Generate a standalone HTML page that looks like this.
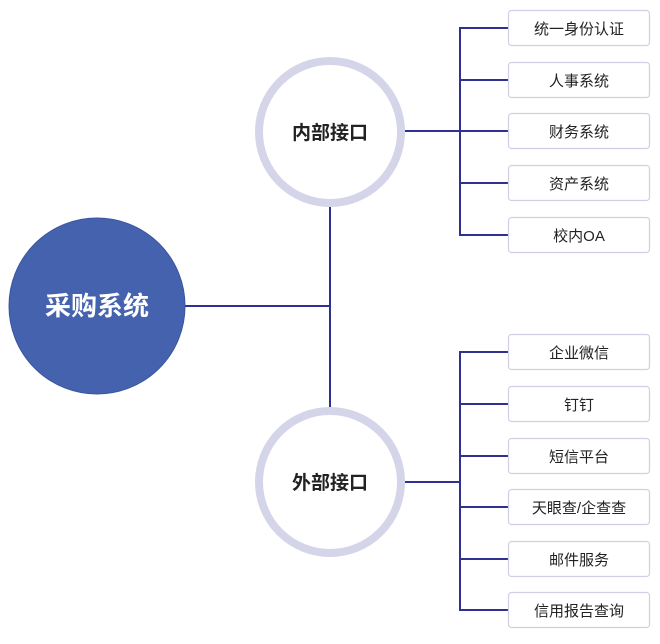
<!DOCTYPE html>
<html><head><meta charset="utf-8"><style>
body{margin:0;background:#fff;}
svg text{font-family:"Liberation Sans","Noto Sans CJK SC",sans-serif;}
</style></head><body>
<svg width="660" height="639" viewBox="0 0 660 639" xmlns="http://www.w3.org/2000/svg">
<g stroke="#2e3192" stroke-width="2" fill="none">
<line x1="185" y1="306" x2="330" y2="306"/>
<line x1="330" y1="207" x2="330" y2="407"/>
<line x1="405" y1="131" x2="508" y2="131"/>
<polyline points="508,28 460,28 460,235 508,235"/>
<line x1="460" y1="80" x2="508" y2="80"/>
<line x1="460" y1="183" x2="508" y2="183"/>
<line x1="405" y1="482" x2="460" y2="482"/>
<polyline points="508,352 460,352 460,610 508,610"/>
<line x1="460" y1="404" x2="508" y2="404"/>
<line x1="460" y1="456" x2="508" y2="456"/>
<line x1="460" y1="507" x2="508" y2="507"/>
<line x1="460" y1="559" x2="508" y2="559"/>
</g>
<circle cx="97" cy="306" r="88" fill="#4462ad" stroke="#3a55a0" stroke-width="1"/>
<text x="97" y="315" font-size="26" font-weight="bold" fill="#fff" text-anchor="middle">采购系统</text>
<circle cx="330" cy="132" r="71" fill="#fff" stroke="#d5d5ea" stroke-width="8"/>
<text x="330" y="139" font-size="19" font-weight="bold" fill="#222" text-anchor="middle">内部接口</text>
<circle cx="330" cy="482" r="71" fill="#fff" stroke="#d5d5ea" stroke-width="8"/>
<text x="330" y="489" font-size="19" font-weight="bold" fill="#222" text-anchor="middle">外部接口</text>
<g fill="#fff" stroke="#cfcfe6" stroke-width="1.2">
<rect x="508.5" y="10.5" width="141" height="35" rx="3"/>
<rect x="508.5" y="62.5" width="141" height="35" rx="3"/>
<rect x="508.5" y="113.5" width="141" height="35" rx="3"/>
<rect x="508.5" y="165.5" width="141" height="35" rx="3"/>
<rect x="508.5" y="217.5" width="141" height="35" rx="3"/>
<rect x="508.5" y="334.5" width="141" height="35" rx="3"/>
<rect x="508.5" y="386.5" width="141" height="35" rx="3"/>
<rect x="508.5" y="438.5" width="141" height="35" rx="3"/>
<rect x="508.5" y="489.5" width="141" height="35" rx="3"/>
<rect x="508.5" y="541.5" width="141" height="35" rx="3"/>
<rect x="508.5" y="592.5" width="141" height="35" rx="3"/>
</g>
<g font-size="15" fill="#222" text-anchor="middle">
<text x="579" y="34">统一身份认证</text>
<text x="579" y="86">人事系统</text>
<text x="579" y="137">财务系统</text>
<text x="579" y="189">资产系统</text>
<text x="579" y="241">校内OA</text>
<text x="579" y="358">企业微信</text>
<text x="579" y="410">钉钉</text>
<text x="579" y="462">短信平台</text>
<text x="579" y="513">天眼查/企查查</text>
<text x="579" y="565">邮件服务</text>
<text x="579" y="616">信用报告查询</text>
</g>
</svg>
</body></html>
